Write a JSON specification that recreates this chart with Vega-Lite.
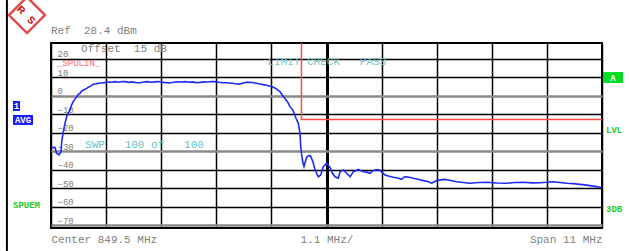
{
  "$schema": "https://vega.github.io/schema/vega-lite/v6.json",
  "width": 551,
  "height": 185,
  "autosize": {"type": "none"},
  "padding": {"left": 51, "top": 43, "right": 27, "bottom": 23},
  "background": "white",
  "config": {"view": {"stroke": "#000000", "strokeWidth": 2}},
  "resolve": {"axis": {"x": "independent", "y": "independent"}},
  "datasets": {
    "trace": [
      {"f": 844.0, "dB": -27.5}, {"f": 844.04, "dB": -28.2}, {"f": 844.08, "dB": -28.0}, {"f": 844.11, "dB": -31.2},
      {"f": 844.16, "dB": -32.1}, {"f": 844.2, "dB": -30.4}, {"f": 844.214, "dB": -25.0}, {"f": 844.246, "dB": -19.5},
      {"f": 844.28, "dB": -15.0}, {"f": 844.313, "dB": -11.4}, {"f": 844.345, "dB": -9.5}, {"f": 844.379, "dB": -7.8},
      {"f": 844.41, "dB": -5.2}, {"f": 844.445, "dB": -3.3}, {"f": 844.48, "dB": -1.8}, {"f": 844.513, "dB": -0.6},
      {"f": 844.545, "dB": 0.6}, {"f": 844.579, "dB": 1.2}, {"f": 844.61, "dB": 2.4}, {"f": 844.645, "dB": 3.0},
      {"f": 844.68, "dB": 3.4}, {"f": 844.713, "dB": 3.9}, {"f": 844.745, "dB": 4.5}, {"f": 844.779, "dB": 4.8},
      {"f": 844.82, "dB": 5.7}, {"f": 844.864, "dB": 6.2}, {"f": 844.9, "dB": 6.3}, {"f": 844.944, "dB": 6.6},
      {"f": 845.0, "dB": 6.8}, {"f": 845.07, "dB": 7.0}, {"f": 845.14, "dB": 7.3}, {"f": 845.21, "dB": 7.2},
      {"f": 845.28, "dB": 7.5}, {"f": 845.35, "dB": 7.2}, {"f": 845.42, "dB": 7.6}, {"f": 845.48, "dB": 7.5},
      {"f": 845.55, "dB": 7.1}, {"f": 845.62, "dB": 7.4}, {"f": 845.7, "dB": 7.0}, {"f": 845.78, "dB": 6.9},
      {"f": 845.85, "dB": 7.3}, {"f": 845.92, "dB": 7.5}, {"f": 846.0, "dB": 7.2}, {"f": 846.08, "dB": 7.4},
      {"f": 846.15, "dB": 7.6}, {"f": 846.22, "dB": 7.1}, {"f": 846.3, "dB": 7.0}, {"f": 846.38, "dB": 6.8},
      {"f": 846.45, "dB": 7.2}, {"f": 846.52, "dB": 7.4}, {"f": 846.6, "dB": 7.3}, {"f": 846.68, "dB": 7.5},
      {"f": 846.75, "dB": 7.2}, {"f": 846.82, "dB": 7.4}, {"f": 846.9, "dB": 7.0}, {"f": 846.98, "dB": 7.1},
      {"f": 847.05, "dB": 7.4}, {"f": 847.12, "dB": 7.3}, {"f": 847.2, "dB": 7.6}, {"f": 847.27, "dB": 7.5},
      {"f": 847.35, "dB": 7.2}, {"f": 847.42, "dB": 7.0}, {"f": 847.5, "dB": 6.9}, {"f": 847.57, "dB": 6.8},
      {"f": 847.65, "dB": 6.5}, {"f": 847.72, "dB": 6.3}, {"f": 847.77, "dB": 6.2}, {"f": 847.83, "dB": 6.8},
      {"f": 847.9, "dB": 7.1}, {"f": 847.97, "dB": 7.2}, {"f": 848.05, "dB": 6.9}, {"f": 848.12, "dB": 6.5},
      {"f": 848.17, "dB": 6.2}, {"f": 848.24, "dB": 5.9}, {"f": 848.3, "dB": 5.6}, {"f": 848.36, "dB": 5.2},
      {"f": 848.41, "dB": 4.8}, {"f": 848.46, "dB": 4.2}, {"f": 848.51, "dB": 3.3}, {"f": 848.57, "dB": 2.1},
      {"f": 848.64, "dB": -0.6}, {"f": 848.7, "dB": -2.6}, {"f": 848.74, "dB": -4.2}, {"f": 848.77, "dB": -6.0},
      {"f": 848.825, "dB": -7.8}, {"f": 848.86, "dB": -10.0}, {"f": 848.891, "dB": -12.3}, {"f": 848.937, "dB": -15.0},
      {"f": 848.971, "dB": -20.4}, {"f": 848.985, "dB": -27.7}, {"f": 849.005, "dB": -32.1}, {"f": 849.03, "dB": -36.5},
      {"f": 849.051, "dB": -38.4}, {"f": 849.08, "dB": -35.5}, {"f": 849.105, "dB": -33.2}, {"f": 849.15, "dB": -32.5},
      {"f": 849.181, "dB": -32.7}, {"f": 849.231, "dB": -35.9}, {"f": 849.271, "dB": -40.2}, {"f": 849.337, "dB": -43.9},
      {"f": 849.385, "dB": -43.0}, {"f": 849.436, "dB": -38.5}, {"f": 849.504, "dB": -36.6}, {"f": 849.57, "dB": -38.9},
      {"f": 849.62, "dB": -42.0}, {"f": 849.67, "dB": -43.9}, {"f": 849.736, "dB": -44.7}, {"f": 849.77, "dB": -41.2},
      {"f": 849.836, "dB": -40.2}, {"f": 849.903, "dB": -42.0}, {"f": 849.969, "dB": -43.9}, {"f": 850.035, "dB": -41.2},
      {"f": 850.09, "dB": -40.5}, {"f": 850.135, "dB": -39.9}, {"f": 850.185, "dB": -40.6}, {"f": 850.235, "dB": -41.2},
      {"f": 850.3, "dB": -41.4}, {"f": 850.369, "dB": -42.0}, {"f": 850.42, "dB": -40.8}, {"f": 850.468, "dB": -40.2},
      {"f": 850.52, "dB": -40.0}, {"f": 850.568, "dB": -40.5}, {"f": 850.62, "dB": -41.8}, {"f": 850.668, "dB": -43.0},
      {"f": 850.75, "dB": -43.6}, {"f": 850.834, "dB": -44.2}, {"f": 850.92, "dB": -44.6}, {"f": 851.0, "dB": -45.3},
      {"f": 851.05, "dB": -44.0}, {"f": 851.1, "dB": -43.9}, {"f": 851.17, "dB": -44.3}, {"f": 851.233, "dB": -44.7},
      {"f": 851.33, "dB": -45.2}, {"f": 851.433, "dB": -46.0}, {"f": 851.52, "dB": -46.5}, {"f": 851.6, "dB": -47.4},
      {"f": 851.65, "dB": -46.6}, {"f": 851.7, "dB": -46.0}, {"f": 851.78, "dB": -45.6}, {"f": 851.866, "dB": -45.3},
      {"f": 851.98, "dB": -45.9}, {"f": 852.099, "dB": -46.6}, {"f": 852.23, "dB": -47.0}, {"f": 852.365, "dB": -47.4},
      {"f": 852.53, "dB": -47.0}, {"f": 852.698, "dB": -46.9}, {"f": 852.9, "dB": -47.3}, {"f": 853.098, "dB": -47.4},
      {"f": 853.26, "dB": -47.0}, {"f": 853.43, "dB": -46.9}, {"f": 853.6, "dB": -47.2}, {"f": 853.76, "dB": -47.1},
      {"f": 853.89, "dB": -46.9}, {"f": 854.03, "dB": -46.6}, {"f": 854.16, "dB": -47.0}, {"f": 854.3, "dB": -47.4},
      {"f": 854.43, "dB": -47.6}, {"f": 854.56, "dB": -48.0}, {"f": 854.66, "dB": -48.3}, {"f": 854.76, "dB": -48.7},
      {"f": 854.86, "dB": -49.1}, {"f": 854.96, "dB": -49.6}, {"f": 855.0, "dB": -49.8}
    ],
    "limit": [
      {"i": 1, "f": 849.0, "dB": 28.4},
      {"i": 2, "f": 849.0, "dB": -13.0},
      {"i": 3, "f": 855.0, "dB": -13.0}
    ]
  },
  "layer": [
    {
      "data": {"name": "trace"},
      "mark": {"type": "line", "color": "#1c2cf2", "strokeWidth": 1.6, "clip": true},
      "encoding": {
        "x": {
          "field": "f", "type": "quantitative",
          "scale": {"domain": [844, 855], "nice": false, "zero": false},
          "axis": {
            "title": null,
            "values": [844, 845.1, 846.2, 847.3, 848.4, 849.5, 850.6, 851.7, 852.8, 853.9, 855],
            "labelExpr": "datum.value == 844 ? 'Center\u00a0849.5\u00a0MHz' : (abs(datum.value - 849.5) < 0.01 ? '1.1\u00a0MHz/' : (datum.value == 855 ? 'Span\u00a011\u00a0MHz' : ''))",
            "labelFlush": true,
            "labelOverlap": false,
            "labelBound": false,
            "grid": true,
            "gridColor": "#000000",
            "gridOpacity": 1,
            "gridWidth": {"condition": {"test": "abs(datum.value - 849.5) < 0.01", "value": 3}, "value": 1.5},
            "ticks": false,
            "domain": false,
            "labelPadding": 5,
            "labelFont": "Liberation Mono",
            "labelFontSize": 11,
            "labelColor": "#7f7f7f"
          }
        },
        "y": {
          "field": "dB", "type": "quantitative",
          "scale": {"domain": [-71.6, 28.4], "nice": false, "zero": false},
          "axis": {
            "title": null,
            "values": [-70, -60, -50, -40, -30, -20, -10, 0, 10, 20],
            "labelOverlap": false,
            "labelBound": false,
            "grid": true,
            "gridOpacity": 1,
            "gridColor": {"condition": {"test": "datum.value == 0 || datum.value == -30 || datum.value == -70", "value": "#8a8a8a"}, "value": "#000000"},
            "gridWidth": {"condition": {"test": "datum.value == 0 || datum.value == -30 || datum.value == -70", "value": 2.5}, "value": 1.5},
            "ticks": false,
            "domain": false,
            "labelAlign": "left",
            "labelBaseline": "bottom",
            "labelOffset": 0,
            "labelPadding": -6,
            "labelFont": "Liberation Mono",
            "labelFontSize": 9,
            "labelColor": "#808080"
          }
        }
      }
    },
    {
      "data": {"name": "limit"},
      "mark": {"type": "line", "color": "#ff4a4a", "strokeWidth": 1.5},
      "encoding": {
        "x": {"field": "f", "type": "quantitative", "axis": null},
        "y": {"field": "dB", "type": "quantitative", "axis": null},
        "order": {"field": "i"}
      }
    },
    {
      "data": {"values": [{}]},
      "mark": {"type": "rule", "color": "#000000", "strokeWidth": 2},
      "encoding": {
        "x": {"datum": 843.12, "type": "quantitative", "axis": null},
        "y": {"datum": 51.6, "type": "quantitative", "axis": null},
        "y2": {"datum": -84.0}
      }
    },
    {
      "data": {"values": [{}]},
      "mark": {"type": "point", "shape": "diamond", "size": 1300, "filled": false, "stroke": "#d40000", "strokeWidth": 2.5},
      "encoding": {
        "x": {"datum": 843.52, "type": "quantitative", "axis": null},
        "y": {"datum": 43.5, "type": "quantitative", "axis": null}
      }
    },
    {
      "data": {"values": [{}]},
      "mark": {"type": "text", "color": "#d40000", "font": "Liberation Sans", "fontWeight": "bold", "fontSize": 10, "angle": 45, "align": "center", "baseline": "middle"},
      "encoding": {
        "x": {"datum": 843.40, "type": "quantitative", "axis": null},
        "y": {"datum": 46.2, "type": "quantitative", "axis": null},
        "text": {"value": "R"}
      }
    },
    {
      "data": {"values": [{}]},
      "mark": {"type": "text", "color": "#d40000", "font": "Liberation Sans", "fontWeight": "bold", "fontSize": 10, "angle": 45, "align": "center", "baseline": "middle"},
      "encoding": {
        "x": {"datum": 843.60, "type": "quantitative", "axis": null},
        "y": {"datum": 40.6, "type": "quantitative", "axis": null},
        "text": {"value": "S"}
      }
    },
    {
      "data": {"values": [{}]},
      "mark": {"type": "text", "color": "#7f7f7f", "font": "Liberation Mono", "fontSize": 11, "align": "left", "baseline": "middle"},
      "encoding": {
        "x": {"datum": 844.0, "type": "quantitative", "axis": null},
        "y": {"datum": 34.9, "type": "quantitative", "axis": null},
        "text": {"value": "Ref\u00a0\u00a028.4\u00a0dBm"}
      }
    },
    {
      "data": {"values": [{}]},
      "mark": {"type": "text", "color": "#7f7f7f", "font": "Liberation Mono", "fontSize": 11, "align": "left", "baseline": "middle"},
      "encoding": {
        "x": {"datum": 844.6, "type": "quantitative", "axis": null},
        "y": {"datum": 25.2, "type": "quantitative", "axis": null},
        "text": {"value": "Offset\u00a0\u00a015\u00a0dB"}
      }
    },
    {
      "data": {"values": [{}]},
      "mark": {"type": "text", "color": "#ff6a6a", "font": "Liberation Mono", "fontSize": 9, "align": "left", "baseline": "middle"},
      "encoding": {
        "x": {"datum": 844.12, "type": "quantitative", "axis": null},
        "y": {"datum": 17.37, "type": "quantitative", "axis": null},
        "text": {"value": "_SPULIN_"}
      }
    },
    {
      "data": {"values": [{}]},
      "mark": {"type": "text", "color": "#78c8c8", "font": "Liberation Mono", "fontSize": 11, "align": "left", "baseline": "middle"},
      "encoding": {
        "x": {"datum": 848.32, "type": "quantitative", "axis": null},
        "y": {"datum": 18.3, "type": "quantitative", "axis": null},
        "text": {"value": "LIMIT\u00a0CHECK\u00a0\u00a0\u00a0PASS"}
      }
    },
    {
      "data": {"values": [{}]},
      "mark": {"type": "text", "color": "#66c4c4", "font": "Liberation Mono", "fontSize": 11, "align": "left", "baseline": "middle"},
      "encoding": {
        "x": {"datum": 844.68, "type": "quantitative", "axis": null},
        "y": {"datum": -26.7, "type": "quantitative", "axis": null},
        "text": {"value": "SWP\u00a0\u00a0\u00a0100\u00a0of\u00a0\u00a0\u00a0100"}
      }
    },
    {
      "data": {"values": [{}]},
      "mark": {"type": "rect", "color": "#1a1aff"},
      "encoding": {
        "x": {"datum": 843.241, "type": "quantitative", "axis": null},
        "x2": {"datum": 843.381},
        "y": {"datum": -2.95, "type": "quantitative", "axis": null},
        "y2": {"datum": -8.36}
      }
    },
    {
      "data": {"values": [{}]},
      "mark": {"type": "rect", "color": "#1a1aff"},
      "encoding": {
        "x": {"datum": 843.241, "type": "quantitative", "axis": null},
        "x2": {"datum": 843.641},
        "y": {"datum": -10.5, "type": "quantitative", "axis": null},
        "y2": {"datum": -15.9}
      }
    },
    {
      "data": {"values": [{}]},
      "mark": {"type": "rect", "color": "#00dd22"},
      "encoding": {
        "x": {"datum": 855.02, "type": "quantitative", "axis": null},
        "x2": {"datum": 855.42},
        "y": {"datum": 12.7, "type": "quantitative", "axis": null},
        "y2": {"datum": 6.8}
      }
    },
    {
      "data": {"values": [{}]},
      "mark": {"type": "text", "color": "#ffffff", "font": "Liberation Mono", "fontWeight": "bold", "fontSize": 9, "align": "center", "baseline": "middle"},
      "encoding": {
        "x": {"datum": 843.311, "type": "quantitative", "axis": null},
        "y": {"datum": -5.65, "type": "quantitative", "axis": null},
        "text": {"value": "1"}
      }
    },
    {
      "data": {"values": [{}]},
      "mark": {"type": "text", "color": "#ffffff", "font": "Liberation Mono", "fontWeight": "bold", "fontSize": 9, "align": "center", "baseline": "middle"},
      "encoding": {
        "x": {"datum": 843.441, "type": "quantitative", "axis": null},
        "y": {"datum": -13.2, "type": "quantitative", "axis": null},
        "text": {"value": "AVG"}
      }
    },
    {
      "data": {"values": [{}]},
      "mark": {"type": "text", "color": "#ffffff", "font": "Liberation Mono", "fontWeight": "bold", "fontSize": 9, "align": "center", "baseline": "middle"},
      "encoding": {
        "x": {"datum": 855.22, "type": "quantitative", "axis": null},
        "y": {"datum": 9.75, "type": "quantitative", "axis": null},
        "text": {"value": "A"}
      }
    },
    {
      "data": {"values": [{}]},
      "mark": {"type": "text", "color": "#22cc22", "font": "Liberation Mono", "fontWeight": "bold", "fontSize": 9, "align": "left", "baseline": "middle"},
      "encoding": {
        "x": {"datum": 843.241, "type": "quantitative", "axis": null},
        "y": {"datum": -59.4, "type": "quantitative", "axis": null},
        "text": {"value": "SPUEM"}
      }
    },
    {
      "data": {"values": [{}]},
      "mark": {"type": "text", "color": "#22cc22", "font": "Liberation Mono", "fontWeight": "bold", "fontSize": 9, "align": "left", "baseline": "middle"},
      "encoding": {
        "x": {"datum": 855.08, "type": "quantitative", "axis": null},
        "y": {"datum": -18.6, "type": "quantitative", "axis": null},
        "text": {"value": "LVL"}
      }
    },
    {
      "data": {"values": [{}]},
      "mark": {"type": "text", "color": "#22cc22", "font": "Liberation Mono", "fontWeight": "bold", "fontSize": 9, "align": "left", "baseline": "middle"},
      "encoding": {
        "x": {"datum": 855.08, "type": "quantitative", "axis": null},
        "y": {"datum": -61.1, "type": "quantitative", "axis": null},
        "text": {"value": "3DB"}
      }
    }
  ]
}
